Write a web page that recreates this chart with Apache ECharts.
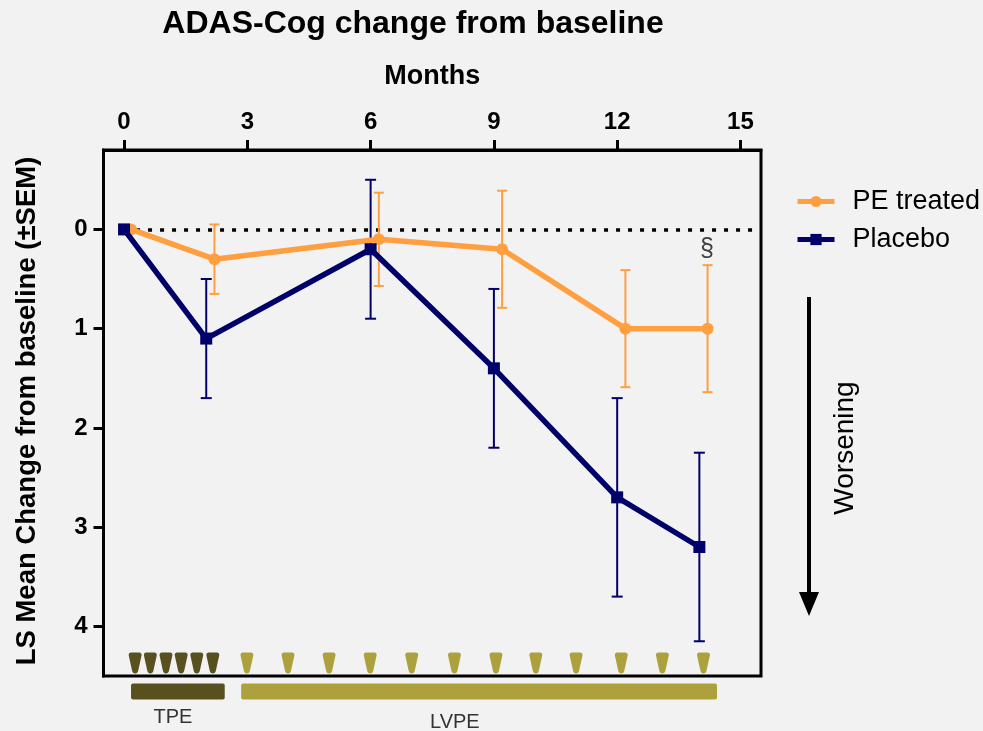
<!DOCTYPE html>
<html>
<head>
<meta charset="utf-8">
<style>html,body{margin:0;padding:0;background:#f2f2f2}#c{width:983px;height:731px}</style>
<script src="https://cdn.jsdelivr.net/npm/echarts@6/dist/echarts.min.js"></script>
</head>
<body>
<div id="c"></div>
<script>
const xTicks = [0, 3, 6, 9, 12, 15];
const yTicks = [0, 1, 2, 3, 4];
const peMonths = [0.17, 2.2, 6.2, 9.2, 12.2, 14.2];
const peMean = [0, 0.3, 0.1, 0.2, 1, 1];
const peLow = [null, -0.05, -0.37, -0.39, 0.41, 0.36];
const peHigh = [null, 0.65, 0.57, 0.79, 1.59, 1.64];
const placeboMonths = [0, 2, 6, 9, 12, 14];
const placeboMean = [0, 1.1, 0.2, 1.4, 2.7, 3.2];
const placeboLow = [null, 0.5, -0.5, 0.6, 1.7, 2.25];
const placeboHigh = [null, 1.7, 0.9, 2.2, 3.7, 4.15];
const tpeSessions = [0.27, 0.64, 1.02, 1.39, 1.77, 2.16];
const lvpeSessions = [2.99, 3.99, 4.99, 5.99, 7.0, 8.04, 9.05, 10.02, 11.0, 12.1, 13.1, 14.1];
const sessionLevel = 4.37;
const phaseNames = ['TPE', 'LVPE'];
const phaseStart = [0.17, 2.85];
const phaseEnd = [2.45, 14.43];
const phaseLevel = 4.655;
const phaseLabelX = [1.19, 8.05];
const phaseLabelY = [4.92, 4.97];

const ORANGE = '#ff9f40', NAVY = '#00006a', DARK = '#58501f', OLIVE = '#ada13e';
const FONT = '"Liberation Sans", Arial, sans-serif';
const wedge = 'path://M2 0H11Q13 0 13 2.5L9.6 18Q9 21 6.5 21Q4 21 3.4 18L0 2.5Q0 0 2 0Z';

function errorSeries(name, xs, lows, highs, color, cap) {
  return {
    type: 'custom', name, z: 2, silent: true,
    data: xs.map((x, i) => [x, lows[i], highs[i]]).filter(d => d[1] !== null),
    encode: { x: 0, y: [1, 2] },
    renderItem(params, api) {
      const a = api.coord([api.value(0), api.value(1)]);
      const b = api.coord([api.value(0), api.value(2)]);
      const st = { stroke: color, lineWidth: 2, fill: null };
      return { type: 'group', children: [
        { type: 'line', shape: { x1: a[0], y1: a[1], x2: b[0], y2: b[1] }, style: st },
        { type: 'line', shape: { x1: a[0] - cap, y1: a[1], x2: a[0] + cap, y2: a[1] }, style: st },
        { type: 'line', shape: { x1: b[0] - cap, y1: b[1], x2: b[0] + cap, y2: b[1] }, style: st }
      ]};
    }
  };
}
function sessionSeries(name, xs, color) {
  return {
    type: 'scatter', name, silent: true, z: 3, symbol: wedge, symbolSize: [13, 21],
    itemStyle: { color, opacity: 1 },
    data: xs.map(x => [x, sessionLevel])
  };
}

const chart = echarts.init(document.getElementById('c'), null, { renderer: 'canvas' });
chart.setOption({
  animation: false,
  backgroundColor: '#f2f2f2',
  textStyle: { fontFamily: FONT },
  title: {
    text: 'ADAS-Cog change from baseline', left: 408, top: 3, textAlign: 'center',
    textStyle: { fontFamily: FONT, fontSize: 32, fontWeight: 'bold', color: '#000' }
  },
  legend: {
    left: 790, top: 183, orient: 'vertical', itemWidth: 37, itemHeight: 14, itemGap: 11,
    data: ['PE treated', 'Placebo'], selectedMode: false,
    lineStyle: { width: 5 },
    textStyle: { fontFamily: FONT, fontSize: 27, color: '#000', padding: [0, 0, 0, 13] }
  },
  grid: { left: 103.5, top: 150, width: 657.5, height: 526, show: true, borderColor: '#000', borderWidth: 3, backgroundColor: 'transparent', outerBoundsMode: 'none' },
  xAxis: {
    type: 'value', position: 'top', min: -0.5, max: 15.5,
    name: 'Months', nameLocation: 'middle', nameGap: 60,
    nameTextStyle: { fontFamily: FONT, fontSize: 27, fontWeight: 'bold', color: '#000' },
    splitLine: { show: false },
    axisLine: { show: true, onZero: false, lineStyle: { color: '#000', width: 3 } },
    axisTick: { show: true, length: 10, lineStyle: { color: '#000', width: 3 }, customValues: xTicks },
    axisLabel: { customValues: xTicks, margin: 16, fontFamily: FONT, fontSize: 24, fontWeight: 'bold', color: '#000' }
  },
  yAxis: {
    type: 'value', inverse: true, min: -0.8, max: 4.5,
    name: 'LS Mean Change from baseline (±SEM)', nameLocation: 'middle', nameGap: 62, nameRotate: 90,
    nameTextStyle: { fontFamily: FONT, fontSize: 27.5, fontWeight: 'bold', color: '#000', padding: [0, 0, 0, 4] },
    splitLine: { show: false },
    axisLine: { show: true, onZero: false, lineStyle: { color: '#000', width: 3 } },
    axisTick: { show: true, length: 10, lineStyle: { color: '#000', width: 3 }, customValues: yTicks },
    axisLabel: { customValues: yTicks, margin: 16, fontFamily: FONT, fontSize: 24, fontWeight: 'bold', color: '#000' }
  },
  series: [
    errorSeries('PE SEM', peMonths, peLow, peHigh, ORANGE, 5),
    errorSeries('Placebo SEM', placeboMonths, placeboLow, placeboHigh, NAVY, 5.5),
    {
      type: 'line', name: 'PE treated', z: 4, silent: true,
      data: peMonths.map((x, i) => [x, peMean[i]]),
      symbol: 'circle', symbolSize: 12, showSymbol: true,
      lineStyle: { color: ORANGE, width: 5.5 }, itemStyle: { color: ORANGE },
      markLine: {
        silent: true, symbol: 'none', animation: false, label: { show: false }, z: 1,
        lineStyle: { color: '#000', width: 3.5, type: [4, 8] },
        data: [[{ coord: [0, 0] }, { coord: [15.5, 0] }]]
      }
    },
    {
      type: 'line', name: 'Placebo', z: 5, silent: true,
      data: placeboMonths.map((x, i) => [x, placeboMean[i]]),
      symbol: 'rect', symbolSize: 12, showSymbol: true,
      lineStyle: { color: NAVY, width: 5.5 }, itemStyle: { color: NAVY }
    },
    sessionSeries('TPE sessions', tpeSessions, DARK),
    sessionSeries('LVPE sessions', lvpeSessions, OLIVE),
    {
      type: 'custom', name: 'Phases', silent: true, clip: false, z: 3,
      data: phaseNames.map((n, i) => [phaseStart[i], phaseEnd[i], phaseLevel, phaseLabelX[i], phaseLabelY[i]]),
      encode: { x: [0, 1], y: 2 },
      renderItem(params, api) {
        const i = params.dataIndex;
        const a = api.coord([api.value(0), api.value(2)]);
        const b = api.coord([api.value(1), api.value(2)]);
        const l = api.coord([api.value(3), api.value(4)]);
        return { type: 'group', children: [
          { type: 'rect', shape: { x: a[0], y: a[1] - 8, width: b[0] - a[0], height: 16, r: 2 },
            style: { fill: i === 0 ? DARK : OLIVE } },
          { type: 'text', x: l[0], y: l[1],
            style: { text: phaseNames[i], fill: '#333', font: '20px ' + FONT, align: 'center', verticalAlign: 'middle' } }
        ]};
      }
    }
  ],
  graphic: [
    { type: 'text', x: 707, y: 249, z: 10, style: { text: '§', fill: '#404040', font: '25px ' + FONT, align: 'center', verticalAlign: 'middle' } },
    { type: 'text', x: 845, y: 448, rotation: Math.PI / 2, z: 10, style: { text: 'Worsening', fill: '#000', font: '28px ' + FONT, align: 'center', verticalAlign: 'middle' } },
    { type: 'line', z: 10, shape: { x1: 809, y1: 297, x2: 809, y2: 596 }, style: { stroke: '#000', lineWidth: 4 } },
    { type: 'polygon', z: 10, shape: { points: [[799, 592], [819, 592], [809, 616]] }, style: { fill: '#000' } }
  ]
});
</script>
</body>
</html>
